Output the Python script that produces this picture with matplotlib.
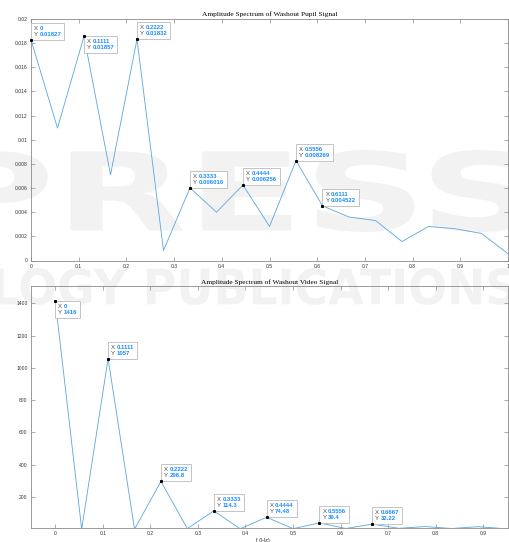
import matplotlib
matplotlib.use("Agg")
import matplotlib.pyplot as plt
from matplotlib.ticker import FuncFormatter, MultipleLocator
from matplotlib.textpath import TextPath
from matplotlib.patches import PathPatch, FancyBboxPatch
from matplotlib.font_manager import FontProperties
from matplotlib.transforms import Affine2D, Bbox, IdentityTransform

# Frequency bins (Hz)
freq = [0.0, 0.05556, 0.1111, 0.1667, 0.2222, 0.2778, 0.3333, 0.3889, 0.4444,
        0.5, 0.5556, 0.6111, 0.6667, 0.7222, 0.7778, 0.8333, 0.8889, 0.9444, 1.0]

# Single-sided amplitude spectra
pupil_amp = [0.01827, 0.01097, 0.01857, 0.00710, 0.01832, 0.00083, 0.006016,
             0.00400, 0.006256, 0.00282, 0.008269, 0.004522, 0.00360, 0.00331,
             0.00157, 0.00282, 0.00263, 0.00224, 0.00056]
video_amp = [1416, 0.5, 1057, 0.5, 296.8, 4.0, 114.3, 3.0, 74.48, 4.0, 39.4,
             5.0, 32.22, 6.0, 17.0, 5.0, 16.0, 4.0, 3.0]

# Data tips: (index, placed below the point?)
pupil_tips = [(0, False), (2, True), (4, False), (6, False), (8, False),
              (10, False), (11, False)]
video_tips = [(0, True), (2, False), (4, False), (6, False), (8, False),
              (10, False), (12, False)]

pupil_title = "Amplitude Spectrum of Washout Pupil Signal"
video_title = "Amplitude Spectrum of Washout Video Signal"

W, H = 509, 542
fig = plt.figure(figsize=(W / 100, H / 100), dpi=100)
fig.patch.set_facecolor("white")

SANS = "Liberation Sans"
SERIF = "Liberation Serif"
LINE = "#5aa6dc"
TIPBLUE = "#1a8cff"
TIPFS = 4.3
tip_texts = []


def watermark(text, x0, y0, x1, y1, color="#f2f2f2"):
    """Faint publisher text stretched into a pixel box (top-left origin)."""
    tp = TextPath((0, 0), text, size=100,
                  prop=FontProperties(family="DejaVu Sans", weight="bold"))
    bb = tp.get_extents()
    tr = (Affine2D().translate(-bb.x0, -bb.y0)
          .scale((x1 - x0) / bb.width / W, (y1 - y0) / bb.height / H)
          .translate(x0 / W, (H - y1) / H)) + fig.transFigure
    fig.patches.append(PathPatch(tp, transform=tr, fc=color, ec="none",
                                 zorder=-5))


watermark("PRESS", -55, 150, 530, 232)
watermark("LOGY PUBLICATIONS", -5, 268, 515, 305)


def style_axes(ax):
    ax.set_facecolor("none")
    for s in ax.spines.values():
        s.set_color("#8a8a8a")
        s.set_linewidth(0.6)
    ax.tick_params(direction="in", length=3, width=0.5, color="#8a8a8a",
                   labelcolor="#333333", labelsize=3.6, top=True, right=True,
                   pad=2.5)
    for lab in ax.get_xticklabels() + ax.get_yticklabels():
        lab.set_family(SANS)
    fmt = FuncFormatter(lambda v, p: f"{v:g}")
    ax.xaxis.set_major_formatter(fmt)
    ax.yaxis.set_major_formatter(fmt)


def datatip(ax, x, y, below):
    xs, ys = f"{x:.4g}", f"{y:.4g}"
    ax.plot([x], [y], "s", color="black", ms=1.2, zorder=8, clip_on=False)
    off = (2.1, -2.1) if below else (2.1, 2.1)
    va = "top" if below else "bottom"
    lab = ax.annotate("X\nY", xy=(x, y), xytext=off,
                      textcoords="offset points", ha="left", va=va,
                      fontsize=TIPFS, family=SANS, linespacing=1.25,
                      color="#4a4a4a", zorder=7, annotation_clip=False)
    val = ax.annotate(f"{xs}\n{ys}", xy=(1, 0), xycoords=lab, xytext=(1.2, 0),
                      textcoords="offset points", ha="left", va="bottom",
                      fontsize=TIPFS, family=SANS, weight="bold",
                      linespacing=1.25, color=TIPBLUE, zorder=7,
                      annotation_clip=False)
    tip_texts.append((lab, val))


# Top panel: pupil signal
ax1 = fig.add_axes([31 / W, 1 - 260.5 / H, 477 / W, 241.5 / H])
ax1.plot(freq, pupil_amp, color=LINE, lw=0.6)
ax1.set_xlim(0, 1)
ax1.set_ylim(0, 0.02)
ax1.xaxis.set_major_locator(MultipleLocator(0.1))
ax1.yaxis.set_major_locator(MultipleLocator(0.002))
style_axes(ax1)
ax1.set_title(pupil_title, fontsize=5.3, family=SERIF, pad=2.5)
for i, below in pupil_tips:
    datatip(ax1, freq[i], pupil_amp[i], below)

# Bottom panel: video signal
ax2 = fig.add_axes([31 / W, 1 - 528 / H, 477 / W, 242 / H])
ax2.plot(freq, video_amp, color=LINE, lw=0.6)
ax2.set_xlim(-0.051, 0.952)
ax2.set_ylim(8, 1507)
ax2.xaxis.set_major_locator(MultipleLocator(0.1))
ax2.yaxis.set_major_locator(MultipleLocator(200))
style_axes(ax2)
ax2.set_title(video_title, fontsize=5.3, family=SERIF, pad=1.5)
for i, below in video_tips:
    datatip(ax2, freq[i], video_amp[i], below)

fig.text(263 / W, 1 - 538 / H, "f (Hz)", fontsize=4, family=SANS,
         color="#333333", ha="center", va="top")

# Frame each data tip with a white box fitted around its two text blocks
fig.canvas.draw()
r = fig.canvas.get_renderer()
for lab, val in tip_texts:
    bb = Bbox.union([lab.get_window_extent(r), val.get_window_extent(r)])
    box = FancyBboxPatch((bb.x0, bb.y0), bb.width, bb.height,
                         boxstyle="square,pad=3", fc="white", ec="#c4c4c4",
                         lw=0.7, transform=IdentityTransform(), zorder=6)
    lab.axes.add_artist(box)
    box.set_transform(IdentityTransform())
    box.set_clip_on(False)

fig.savefig("out.png", dpi=100)
